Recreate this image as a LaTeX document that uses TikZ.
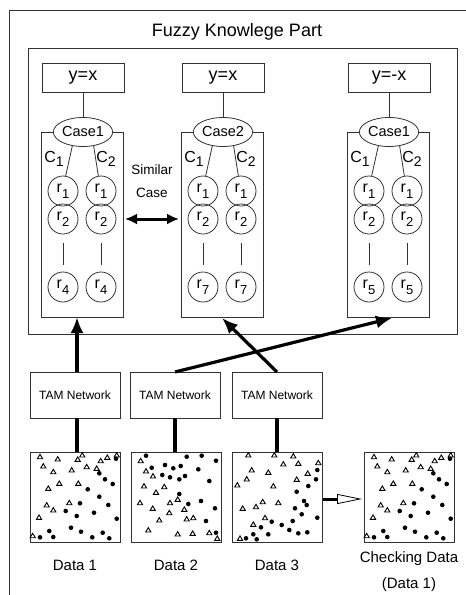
\documentclass[tikz,border=0pt]{standalone}
\usepackage{fontspec}
\setmainfont{Liberation Sans}
\usetikzlibrary{arrows.meta,shapes.geometric}
\newcommand\rsub[2]{#1\raisebox{-6pt}{\fontsize{13}{13}\selectfont #2}}
\newcommand\csub[2]{#1\raisebox{-4pt}{\fontsize{14}{14}\selectfont #2}}
\def\dataAtri{10/4.7,27.7/7,52.3/3,47.7/7.3,70.7/8.7,77.3/5.3,86.7/3,13.3/14,23.3/19.7,41.7/18,56.7/14.7,66.7/16.3,29.3/31.3,48.3/31.3,18.3/36.3,16.7/53,23.3/58,39.3/50.7,9/65.3,2.7/83.7}
\def\dataAdot{86/6.7,69.3/21.3,75/27.3,82.7/32,57.7/37.3,69.3/44.7,78.3/53,50/51.3,35.7/59,46.7/64,64/60.7,86.7/66.7,41/75.7,51/79.7,72.7/80.7,19.3/79,23.3/85,10/85.3,62.3/85.3,79.3/86.3}
\def\dataBtri{9.7/8.7,15/19,13/34,25/40.3,33.3/34.7,9/50.7,21.7/56.3,28.3/68,39/50.7,46.7/47.3,38.3/60.7,53.3/57.3,55.7/67,62.3/65.7,17.3/78,46.7/82,61.7/81.3,78.3/80.7,86.3/86.3,22/24}
\def\dataBdot{15/3.7,20.7/15.7,34/13,42.3/16.3,49.7/14,31.3/23,39/25.3,48.3/27.3,54/24,67.3/17.3,55.7/4.7,70.7/3.7,85/8.7,78.3/29,48.3/42,57.3/52,70/49,84/56.3,75/69,85/80.7}
\def\dataCtri{16.3/3,42.3/3,61.3/4,51.3/12,66.3/11.3,86.3/10.7,19.7/18,36.3/20.3,14.7/27,5.3/33,41.3/34,64.7/27.3,75.7/21.3,30.7/49.7,24/54.7,46.3/50.7,10.7/56.3,33/65.7,21.3/72.3,8/86.3}
\def\dataCdot{85.3/18,84/27.3,76.3/34,64.7/39.7,72/49,74.7/53,63/56.3,69.7/62.3,85.3/65.7,60.7/69,49.7/73,39.7/69.7,29/75.3,57.3/78,66.3/81.3,75.3/80.3,36.3/82.3,21.3/82.3,14/86.3,24.7/87.3}
\newcommand\plotdata[4]{%
  \foreach \x/\y in #3 {\draw[tri] (#1+\x-2.6,#2+\y+2) -- (#1+\x+2.6,#2+\y+2) -- (#1+\x,#2+\y-2.4) -- cycle;}
  \foreach \x/\y in #4 {\fill (#1+\x,#2+\y) circle (2.3pt);}
}
\begin{document}
\begin{tikzpicture}[x=1pt,y=-1pt,
  ln/.style={draw=black!80,line width=0.8pt},
  ybox/.style={ln,minimum width=82pt,minimum height=29pt,inner sep=0pt,outer sep=0pt,font=\fontsize{18}{18}\selectfont},
  casebox/.style={ln,minimum width=82pt,minimum height=185pt,inner sep=0pt,outer sep=0pt},
  ell/.style={ln,ellipse,fill=white,minimum width=57pt,minimum height=29pt,inner sep=0pt,outer sep=0pt,font=\fontsize{14.5}{14.5}\selectfont},
  circ/.style={ln,circle,minimum size=30pt,inner sep=0pt,outer sep=0pt,font=\fontsize{16}{16}\selectfont},
  clab/.style={font=\fontsize{16}{16}\selectfont,inner sep=0pt},
  tam/.style={ln,minimum width=90pt,minimum height=46pt,inner sep=0pt,outer sep=0pt,font=\fontsize{12}{12}\selectfont},
  dbox/.style={ln,minimum width=90pt,minimum height=90pt,inner sep=0pt,outer sep=0pt},
  heavy/.style={line width=3.2pt},
  arr/.style={heavy,-{Latex[length=16pt,width=13pt]}},
  lbl/.style={font=\fontsize{15}{15}\selectfont,inner sep=0pt},
  tri/.style={line width=0.9pt},
]
\useasboundingbox (0,0) rectangle (466,595);
\begin{scope}
\clip (0,0) rectangle (466,595);
\draw[ln] (9,10) rectangle (480,610);
\end{scope}
\node[font=\fontsize{18}{18}\selectfont] (title) at (237,32) {Fuzzy Knowlege Part};
\draw[ln] (28,48) rectangle (457,334);

% case structures
\foreach \i/\cx/\yt/\ct/\rn in {1/82/y=x/Case1/4, 2/222/y=x/Case2/7, 3/388/y=-x/Case1/5}{
  \node[ybox] (y\i) at (\cx+1,77.5) {\yt};
  \node[casebox] (cb\i) at (\cx,224.5) {};
  \node[ell] (e\i) at (\cx+1,132) {\ct};
  \draw[ln] (y\i.south) -- (e\i.north);
  \node[circ] (a\i) at (\cx-19,191) {\rsub{r}{1}};
  \node[circ] (b\i) at (\cx-19,219) {\rsub{r}{2}};
  \node[circ] (c\i) at (\cx-19,287) {\rsub{r}{\rn}};
  \node[circ] (p\i) at (\cx+19,191) {\rsub{r}{1}};
  \node[circ] (q\i) at (\cx+19,219) {\rsub{r}{2}};
  \node[circ] (s\i) at (\cx+19,287) {\rsub{r}{\rn}};
  \node[clab] (l\i) at (\cx-28,159) {\csub{C}{1}};
  \node[clab] (m\i) at (\cx+24,159) {\csub{C}{2}};
  \draw[ln] (e\i.232) -- (a\i.80);
  \draw[ln] (e\i.308) -- (p\i.100);
  \draw[ln] ([yshift=-9pt]b\i.south) -- ([yshift=7pt]c\i.north);
  \draw[ln] ([yshift=-9pt]q\i.south) -- ([yshift=7pt]s\i.north);
}
\node[font=\fontsize{13.5}{13.5}\selectfont,inner sep=0pt] (sim) at (152,170) {Similar};
\node[font=\fontsize{13.5}{13.5}\selectfont,inner sep=0pt] (sca) at (152,193) {Case};
\draw[line width=3pt,{Latex[length=12pt,width=11pt]}-{Latex[length=12pt,width=11pt]}] ([xshift=2pt]cb1.east |- q1.center) -- ([xshift=-2pt]cb2.west |- q1.center);

% TAM networks
\node[tam] (t1) at (75,395) {TAM Network};
\node[tam] (t2) at (175,395) {TAM Network};
\node[tam] (t3) at (277,395) {TAM Network};
\draw[arr] ([xshift=2pt]t1.north) -- ([xshift=2pt]t1.north |- cb1.south);
\draw[arr] (t3.north) -- ([yshift=-1pt]cb2.south);
\draw[arr] (t2.north) -- ([xshift=4pt,yshift=-1pt]cb3.south);

% data boxes
\node[dbox] (d1) at (75,497) {};
\node[dbox] (d2) at (176,497) {};
\node[dbox] (d3) at (277,497) {};
\node[dbox] (d4) at (409,497) {};
\draw[heavy] ([xshift=2pt]t1.south) -- ([xshift=2pt]t1.south |- d1.north);
\draw[heavy] (t2.south) -- (t2.south |- d2.north);
\draw[heavy] (t3.south) -- (t3.south |- d3.north);
\draw[line width=3pt,-{Triangle[open,length=25pt,width=10pt,line width=0.8pt]}] ([xshift=1pt,yshift=-2pt]d3.east) -- ([xshift=-2pt,yshift=-2pt]d4.west);

\plotdata{30}{452}{\dataAtri}{\dataAdot}
\plotdata{131}{452}{\dataBtri}{\dataBdot}
\plotdata{232}{452}{\dataCtri}{\dataCdot}
\plotdata{364}{452}{\dataAtri}{\dataAdot}

\node[lbl] (n1) at (75,565) {Data 1};
\node[lbl] (n2) at (176,565) {Data 2};
\node[lbl] (n3) at (277,565) {Data 3};
\node[lbl] (n4) at (409,559) {Checking Data};
\node[lbl] (n5) at (409,585) {(Data 1)};
\end{tikzpicture}
\end{document}
